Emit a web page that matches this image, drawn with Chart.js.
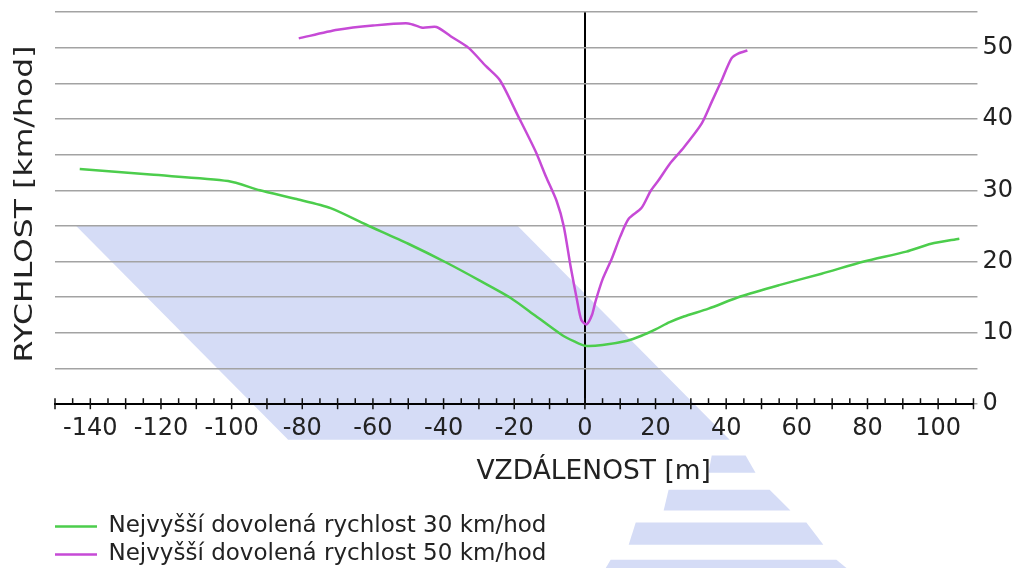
<!DOCTYPE html>
<html>
<head>
<meta charset="utf-8">
<script src="https://cdn.jsdelivr.net/npm/chart.js@4.4.1/dist/chart.umd.min.js"></script>
<style>
  html, body { margin: 0; padding: 0; background: #fff; }
  #wrap { width: 1019px; height: 568px; }
</style>
</head>
<body>
<div id="wrap"><canvas id="chart"></canvas></div>
<script>
// distance [m] and speed [km/h]
const dist30 = [-143, -123, -101, -92, -82, -72, -62, -50, -39, -30, -21, -14, -6.5, -3, 0, 5, 12, 16, 20, 24, 28, 35, 44, 55, 67, 79, 91, 98, 106];
const speed30 = [33.0, 32.2, 31.3, 30.0, 28.8, 27.5, 25.2, 22.5, 19.8, 17.4, 14.9, 12.4, 9.7, 8.8, 8.2, 8.3, 8.9, 9.6, 10.5, 11.5, 12.3, 13.4, 15.1, 16.7, 18.3, 20.0, 21.4, 22.5, 23.2];

const dist50 = [-81, -70, -60, -50, -46, -42, -38, -33, -28, -24, -19, -14, -11, -8, -6, -4, -2.3, -1, 0.5, 2, 3, 5, 7.6, 10, 12.4, 16, 18.6, 21, 24, 28, 33, 36, 38.7, 41.5, 43.5, 46];
const speed50 = [51.3, 52.5, 53.1, 53.4, 52.8, 52.9, 51.6, 50.0, 47.4, 45.4, 40.5, 35.5, 31.9, 28.5, 25.0, 19.2, 14.8, 11.8, 11.2, 12.5, 14.4, 17.5, 20.4, 23.5, 26.0, 27.5, 29.9, 31.5, 33.7, 36.0, 39.3, 42.5, 45.4, 48.5, 49.2, 49.6];

const seriesLabels = ['Nejvyšší dovolená rychlost 30 km/hod', 'Nejvyšší dovolená rychlost 50 km/hod'];
const seriesColors = ['#4ccd4c', '#c64ad6'];

const xTitle = 'VZDÁLENOST [m]';
const yTitle = 'RYCHLOST [km/hod]';

// light blue road watermark behind the plot, in axis units
const roadBody = [[-144, 25], [-19, 25], [41, -5], [-84, -5]];
const roadStripes = [
  [[35.9, -7.2], [45.5, -7.2], [48.3, -9.6], [35.0, -9.6]],
  [[23.7, -12.0], [52.3, -12.0], [58.2, -14.9], [22.3, -14.9]],
  [[14.4, -16.6], [62.7, -16.6], [67.5, -19.7], [12.4, -19.7]],
  [[7.3, -21.8], [71.2, -21.8], [79.0, -25.0], [3.5, -25.0]]
];

function points(xs, ys) {
  return xs.map((x, i) => ({ x: x, y: ys[i] }));
}

Chart.defaults.font.family = 'DejaVu Sans';
Chart.defaults.color = '#222';

const watermark = {
  id: 'watermark',
  beforeDraw(chart) {
    const { ctx, scales: { x, y } } = chart;
    ctx.save();
    ctx.fillStyle = '#d5dcf6';
    [roadBody].concat(roadStripes).forEach(poly => {
      ctx.beginPath();
      poly.forEach((p, i) => {
        const px = x.getPixelForValue(p[0]);
        const py = y.getPixelForValue(p[1]);
        if (i === 0) ctx.moveTo(px, py); else ctx.lineTo(px, py);
      });
      ctx.closePath();
      ctx.fill();
    });
    ctx.restore();
  }
};

// tick marks sitting on the x axis line, plus the two axis titles
const axisDecor = {
  id: 'axisDecor',
  afterDraw(chart) {
    const { ctx, scales: { x, y } } = chart;
    const y0 = y.getPixelForValue(0);
    ctx.save();
    ctx.strokeStyle = '#111';
    ctx.lineWidth = 1.5;
    x.ticks.forEach(t => {
      const px = x.getPixelForValue(t.value);
      const major = t.value % 10 === 0;
      ctx.beginPath();
      ctx.moveTo(px, y0 - 6);
      ctx.lineTo(px, major ? y0 + 5 : y0);
      ctx.stroke();
    });

    ctx.fillStyle = '#222';
    ctx.textAlign = 'center';
    ctx.textBaseline = 'middle';
    ctx.font = '26.5px "DejaVu Sans"';
    ctx.fillText(xTitle, x.getPixelForValue(2.5), 472);

    ctx.translate(25, 204);
    ctx.rotate(-Math.PI / 2);
    ctx.scale(1.26, 1);
    ctx.font = '25px "DejaVu Sans"';
    ctx.fillText(yTitle, 0, 0);
    ctx.restore();
  }
};

new Chart(document.getElementById('chart'), {
  type: 'scatter',
  data: {
    datasets: [
      {
        label: seriesLabels[0],
        data: points(dist30, speed30),
        borderColor: seriesColors[0],
        backgroundColor: seriesColors[0],
        borderWidth: 2.5,
        showLine: true,
        pointRadius: 0,
        tension: 0.25
      },
      {
        label: seriesLabels[1],
        data: points(dist50, speed50),
        borderColor: seriesColors[1],
        backgroundColor: seriesColors[1],
        borderWidth: 2.5,
        showLine: true,
        pointRadius: 0,
        tension: 0.25
      }
    ]
  },
  options: {
    responsive: true,
    maintainAspectRatio: false,
    animation: false,
    layout: { padding: { left: 50, right: 1, top: 12, bottom: -8 } },
    plugins: {
      tooltip: { enabled: false },
      legend: {
        position: 'bottom',
        align: 'start',
        labels: {
          boxWidth: 42,
          boxHeight: 0,
          padding: 5,
          color: '#222',
          font: { size: 23 }
        }
      }
    },
    scales: {
      x: {
        type: 'linear',
        min: -150,
        max: 110,
        ticks: {
          stepSize: 5,
          autoSkip: false,
          maxRotation: 0,
          padding: 10,
          font: { size: 24 },
          callback: v => (v % 20 === 0 ? v : '')
        },
        grid: {
          drawTicks: false,
          lineWidth: 2,
          color: c => (c.tick && c.tick.value === 0 ? '#000' : 'rgba(0,0,0,0)')
        },
        border: { display: true, color: '#000', width: 2 },
        afterFit: s => { s.height += 57; }
      },
      y: {
        position: 'right',
        min: 0,
        max: 55,
        ticks: {
          stepSize: 5,
          padding: 5,
          font: { size: 24, lineHeight: 0.5 },
          callback: v => (v % 10 === 0 ? v : '')
        },
        grid: { color: '#a3a3a3', lineWidth: 1.5, tickLength: 4 },
        border: { display: false }
      },
      yl: {
        position: 'left',
        display: true,
        ticks: { display: false },
        grid: { display: false },
        border: { display: false },
        afterFit: s => { s.width = 5; }
      }
    }
  },
  plugins: [watermark, axisDecor]
});
</script>
</body>
</html>
